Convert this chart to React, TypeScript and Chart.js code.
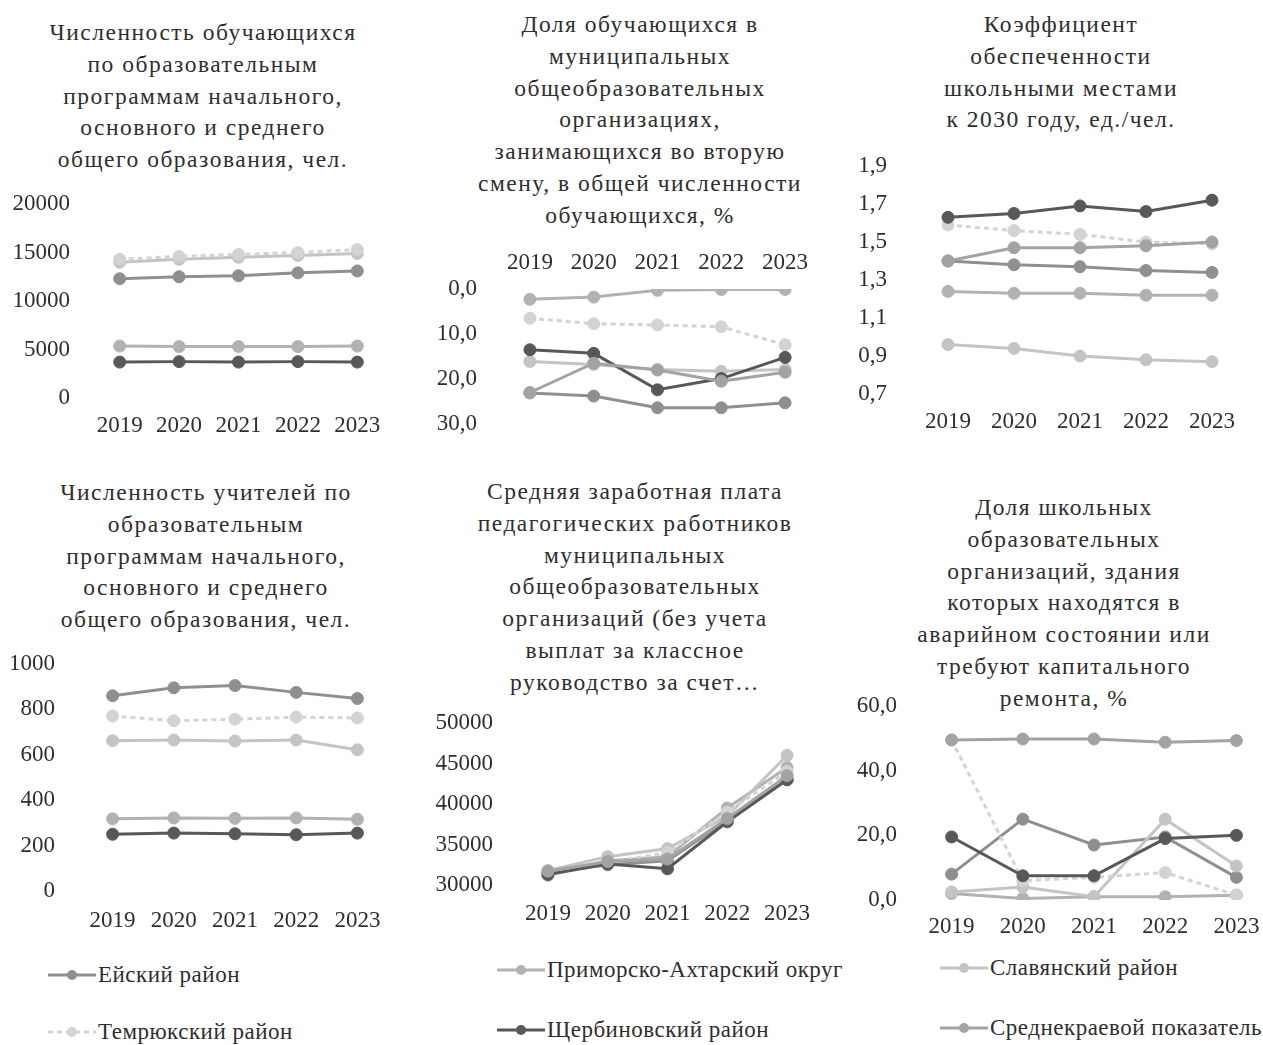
import React, { useEffect, useRef } from "react";
import { Chart, registerables } from "chart.js";

Chart.register(...registerables);

// ---------- categories & series ----------
const years = ["2019", "2020", "2021", "2022", "2023"];
const seriesNames = [
  "Ейский район",
  "Приморско-Ахтарский округ",
  "Славянский район",
  "Темрюкский район",
  "Щербиновский район",
  "Среднекраевой показатель",
];
const seriesColors = ["#8f8f8f", "#b2b2b2", "#c4c4c4", "#d3d3d3", "#585858", "#a3a3a3"];
const seriesDashes: number[][] = [[], [], [], [5, 4], [], []];

// ---------- 1. students ----------
const studentsEysk = [12300, 12500, 12600, 12900, 13100];
const studentsPrim = [5350, 5300, 5300, 5300, 5350];
const studentsSlav = [14000, 14300, 14500, 14700, 14900];
const studentsTemr = [14300, 14600, 14800, 15000, 15300];
const studentsSherb = [3700, 3750, 3700, 3750, 3700];
const studentsAvg: (number | null)[] = [null, null, null, null, null];

// ---------- 2. second shift share, % ----------
const shiftEysk = [23.1, 23.8, 26.4, 26.4, 25.3];
const shiftPrim = [2.3, 1.8, 0.3, 0.1, 0.1];
const shiftSlav = [16.1, 16.8, 17.9, 18.3, 17.9];
const shiftTemr = [6.5, 7.7, 8.0, 8.4, 12.4];
const shiftSherb = [13.5, 14.3, 22.4, 19.9, 15.2];
const shiftAvg = [23.0, 16.5, 18.0, 20.5, 18.5];

// ---------- 3. school places coefficient ----------
const placesEysk = [1.4, 1.38, 1.37, 1.35, 1.34];
const placesPrim = [1.24, 1.23, 1.23, 1.22, 1.22];
const placesSlav = [0.96, 0.94, 0.9, 0.88, 0.87];
const placesTemr = [1.59, 1.56, 1.54, 1.5, 1.49];
const placesSherb = [1.63, 1.65, 1.69, 1.66, 1.72];
const placesAvg = [1.4, 1.47, 1.47, 1.48, 1.5];

// ---------- 4. teachers ----------
const teachersEysk = [860, 895, 905, 875, 848];
const teachersPrim = [318, 322, 320, 322, 316];
const teachersSlav = [662, 665, 661, 665, 622];
const teachersTemr = [771, 750, 757, 766, 762];
const teachersSherb = [250, 255, 252, 248, 255];
const teachersAvg: (number | null)[] = [null, null, null, null, null];

// ---------- 5. salary ----------
const salaryEysk = [31500, 32500, 33000, 38000, 43000];
const salaryPrim = [31200, 33000, 33500, 39500, 44500];
const salarySlav = [31800, 33500, 34500, 38500, 46000];
const salaryTemr = [31600, 32800, 34000, 39000, 44000];
const salarySherb = [31300, 32600, 32000, 37800, 43000];
const salaryAvg = [31700, 32900, 33200, 38200, 43500];

// ---------- 6. buildings in poor state, % ----------
const repairEysk = [8.0, 25.0, 17.0, 19.5, 7.0];
const repairPrim = [2.0, 0.5, 1.0, 1.0, 1.5];
const repairSlav = [2.5, 4.0, 1.0, 25.0, 10.5];
const repairTemr = [49.5, 6.0, 7.0, 8.5, 1.5];
const repairSherb = [19.5, 7.5, 7.5, 19.0, 20.0];
const repairAvg = [49.5, 49.8, 49.8, 48.8, 49.3];

// ---------- tick settings ----------
const studentsTicks = { min: 0, max: 20000, step: 5000 };
const shiftTicks = { min: 0, max: 30, step: 10 };
const placesTicks = { min: 0.7, max: 1.9, step: 0.2 };
const teachersTicks = { min: 0, max: 1000, step: 200 };
const salaryTicks = { min: 30000, max: 50000, step: 5000 };
const repairTicks = { min: 0, max: 60, step: 20 };

const FONT = "'Liberation Serif', 'Times New Roman', serif";
const TEXT = "#2e2e2e";

const comma1 = (v: number) => v.toFixed(1).replace(".", ",");
const plain = (v: number) => String(Math.round(v));

type Box = {
  left: number;
  top: number;
  width: number;
  height: number;
  pad: { top: number; right: number; bottom: number; left: number };
  yW: number;
  xH: number;
  yPad: number;
  xPad: number;
};

type ChartSpec = {
  data: (number | null)[][];
  ticks: { min: number; max: number; step: number };
  fmt: (v: number) => string;
  reverse?: boolean;
  xTop?: boolean;
  box: Box;
};

function LineChart({ spec }: { spec: ChartSpec }) {
  const ref = useRef<HTMLCanvasElement | null>(null);
  useEffect(() => {
    if (!ref.current) return;
    const { box } = spec;
    const chart = new Chart(ref.current, {
      type: "line",
      data: {
        labels: years,
        datasets: spec.data.map((d, i) => ({
          label: seriesNames[i],
          data: d,
          borderColor: seriesColors[i],
          backgroundColor: seriesColors[i],
          borderWidth: 3,
          borderDash: seriesDashes[i],
          pointRadius: 6,
          pointBorderWidth: 1,
          pointBackgroundColor: seriesColors[i],
          pointBorderColor: seriesColors[i],
          tension: 0,
          order: -i,
          spanGaps: false,
        })),
      },
      options: {
        animation: false,
        responsive: false,
        maintainAspectRatio: false,
        devicePixelRatio: 1,
        layout: { padding: box.pad },
        plugins: {
          legend: { display: false },
          title: { display: false },
          tooltip: { enabled: false },
        },
        scales: {
          x: {
            type: "category",
            position: spec.xTop ? "top" : "bottom",
            offset: true,
            grid: { display: false, drawTicks: false },
            border: { display: false },
            ticks: {
              color: TEXT,
              font: { family: FONT, size: 23 },
              padding: box.xPad,
              maxRotation: 0,
              autoSkip: false,
            },
            afterFit: (s: any) => {
              s.height = box.xH;
            },
          },
          y: {
            type: "linear",
            min: spec.ticks.min,
            max: spec.ticks.max,
            reverse: !!spec.reverse,
            grid: { display: false, drawTicks: false },
            border: { display: false },
            ticks: {
              stepSize: spec.ticks.step,
              color: TEXT,
              font: { family: FONT, size: 23 },
              padding: box.yPad,
              callback: (v: any) => spec.fmt(Number(v)),
            },
            afterFit: (s: any) => {
              s.width = box.yW;
            },
          },
        },
      },
    });
    return () => chart.destroy();
  }, [spec]);
  const { box } = spec;
  return (
    <canvas
      ref={ref}
      width={box.width}
      height={box.height}
      style={{ position: "absolute", left: box.left, top: box.top, width: box.width, height: box.height }}
    />
  );
}

function Title({ lines, cx, top }: { lines: string[]; cx: number; top: number }) {
  return (
    <div
      style={{
        position: "absolute",
        left: cx - 230,
        top: top - 16,
        width: 460,
        textAlign: "center",
        fontFamily: FONT,
        fontSize: 23.5,
        letterSpacing: "1.5px",
        lineHeight: "31.8px",
        color: TEXT,
        whiteSpace: "nowrap",
      }}
    >
      {lines.map((l, i) => (
        <div key={i}>{l}</div>
      ))}
    </div>
  );
}

function LegendItem({ i, x, y }: { i: number; x: number; y: number }) {
  return (
    <div
      style={{
        position: "absolute",
        left: x,
        top: y - 16,
        height: 32,
        display: "flex",
        alignItems: "center",
        fontFamily: FONT,
        fontSize: 23,
        letterSpacing: "0.5px",
        color: TEXT,
        whiteSpace: "nowrap",
      }}
    >
      <svg width={48} height={16} style={{ marginRight: 2 }}>
        <line
          x1={0}
          y1={8}
          x2={48}
          y2={8}
          stroke={seriesColors[i]}
          strokeWidth={3}
          strokeDasharray={seriesDashes[i].length ? seriesDashes[i].join(",") : undefined}
        />
        <circle cx={24} cy={8} r={5} fill={seriesColors[i]} />
      </svg>
      <span>{seriesNames[i]}</span>
    </div>
  );
}

const specs: ChartSpec[] = [
  {
    data: [studentsEysk, studentsPrim, studentsSlav, studentsTemr, studentsSherb, studentsAvg],
    ticks: studentsTicks,
    fmt: plain,
    box: { left: 0, top: 154, width: 410, height: 290, pad: { top: 50, right: 23, bottom: 6, left: 0 }, yW: 90, xH: 40, yPad: 20, xPad: 14 },
  },
  {
    data: [shiftEysk, shiftPrim, shiftSlav, shiftTemr, shiftSherb, shiftAvg],
    ticks: shiftTicks,
    fmt: comma1,
    reverse: true,
    xTop: true,
    box: { left: 420, top: 230, width: 420, height: 234, pad: { top: 9, right: 23, bottom: 40, left: 0 }, yW: 78, xH: 50, yPad: 21, xPad: 12 },
  },
  {
    data: [placesEysk, placesPrim, placesSlav, placesTemr, placesSherb, placesAvg],
    ticks: placesTicks,
    fmt: comma1,
    box: { left: 840, top: 116, width: 423, height: 324, pad: { top: 50, right: 18, bottom: 6, left: 0 }, yW: 75, xH: 40, yPad: 28, xPad: 14 },
  },
  {
    data: [teachersEysk, teachersPrim, teachersSlav, teachersTemr, teachersSherb, teachersAvg],
    ticks: teachersTicks,
    fmt: plain,
    box: { left: 0, top: 614, width: 410, height: 323, pad: { top: 50, right: 22, bottom: 6, left: 0 }, yW: 82, xH: 40, yPad: 27, xPad: 16 },
  },
  {
    data: [salaryEysk, salaryPrim, salarySlav, salaryTemr, salarySherb, salaryAvg],
    ticks: salaryTicks,
    fmt: plain,
    box: { left: 420, top: 673, width: 420, height: 258, pad: { top: 50, right: 23, bottom: 6, left: 0 }, yW: 98, xH: 40, yPad: 25, xPad: 15 },
  },
  {
    data: [repairEysk, repairPrim, repairSlav, repairTemr, repairSherb, repairAvg],
    ticks: repairTicks,
    fmt: comma1,
    box: { left: 840, top: 656, width: 440, height: 290, pad: { top: 50, right: 8, bottom: 6, left: 0 }, yW: 76, xH: 40, yPad: 19, xPad: 13 },
  },
];

export default function App() {
  return (
    <div
      style={{
        position: "absolute",
        left: 0,
        top: 0,
        width: 1263,
        height: 1045,
        overflow: "hidden",
        background: "#ffffff",
      }}
    >
      <Title
        cx={203}
        top={33}
        lines={[
          "Численность обучающихся",
          "по образовательным",
          "программам начального,",
          "основного и среднего",
          "общего образования, чел.",
        ]}
      />
      <Title
        cx={640}
        top={25}
        lines={[
          "Доля обучающихся в",
          "муниципальных",
          "общеобразовательных",
          "организациях,",
          "занимающихся во вторую",
          "смену, в общей численности",
          "обучающихся, %",
        ]}
      />
      <Title
        cx={1061}
        top={25}
        lines={["Коэффициент", "обеспеченности", "школьными местами", "к 2030 году, ед./чел."]}
      />
      <Title
        cx={206}
        top={493}
        lines={[
          "Численность учителей по",
          "образовательным",
          "программам начального,",
          "основного и среднего",
          "общего образования, чел.",
        ]}
      />
      <Title
        cx={635}
        top={492}
        lines={[
          "Средняя заработная плата",
          "педагогических работников",
          "муниципальных",
          "общеобразовательных",
          "организаций (без учета",
          "выплат за классное",
          "руководство за счет…",
        ]}
      />
      <Title
        cx={1064}
        top={508}
        lines={[
          "Доля школьных",
          "образовательных",
          "организаций, здания",
          "которых находятся в",
          "аварийном состоянии или",
          "требуют капитального",
          "ремонта, %",
        ]}
      />
      {specs.map((s, i) => (
        <LineChart key={i} spec={s} />
      ))}
      <LegendItem i={0} x={48} y={975} />
      <LegendItem i={1} x={497} y={970} />
      <LegendItem i={2} x={940} y={968} />
      <LegendItem i={3} x={48} y={1032} />
      <LegendItem i={4} x={497} y={1030} />
      <LegendItem i={5} x={940} y={1028} />
    </div>
  );
}
